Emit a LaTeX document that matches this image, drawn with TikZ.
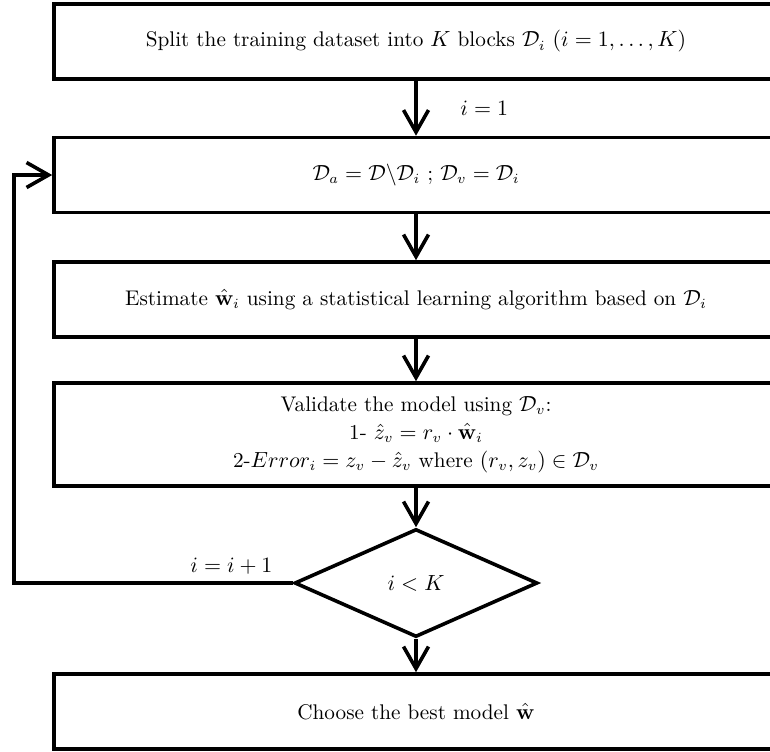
\documentclass[tikz,border=0pt]{standalone}
\usepackage{amsmath}
\usepackage{tikz}
\usetikzlibrary{arrows.meta,shapes.geometric}

\begin{document}
\begin{tikzpicture}[x=0.5pt,y=-0.5pt,line width=1.8pt,
        font=\fontsize{10.6pt}{13pt}\selectfont,
        blk/.style={rectangle, draw, fill=white, align=center,
                        inner sep=0pt, minimum width=362pt, minimum height=37.5pt},
        dec/.style={diamond, draw, fill=white, inner sep=0pt,
                        minimum width=121.5pt, minimum height=54pt},
        arr/.style={-{Straight Barb[length=11pt,width=12.5pt]}}]
    \useasboundingbox (0,0) rectangle (770,751);

    \node[blk] (split) at (416,41.5)
        {Split the training dataset into $K$ blocks $\mathcal{D}_i$ $(i=1,\ldots,K)$};
    \node[blk] (sets) at (416,175)
        {$\mathcal{D}_a=\mathcal{D}\backslash\mathcal{D}_i$ ; $\mathcal{D}_v=\mathcal{D}_i$};
    \node[blk] (est) at (416,299.5)
        {Estimate $\hat{\mathbf{w}}_i$ using a statistical learning algorithm based on $\mathcal{D}_i$};
    \node[blk, minimum height=51.5pt] (valid) at (416,434.5)
        {Validate the model using $\mathcal{D}_v$:\\[1pt]
         1- $\hat{z}_v=r_v\cdot\hat{\mathbf{w}}_i$\\[1pt]
         2-$Error_i=z_v-\hat{z}_v$ where $(r_v,z_v)\in\mathcal{D}_v$};
    \node[dec] (test) at (416,583) {$i<K$};
    \node[blk] (best) at (416,711.5) {Choose the best model $\hat{\mathbf{w}}$};
    \coordinate (back) at (14,583);

    \draw[arr] (split) -- node[right=18pt] {$i=1$} (sets);
    \draw[arr] (sets) -- (est);
    \draw[arr] (est) -- (valid);
    \draw[arr] (valid) -- (test);
    \draw[arr] (test) -- (best);
    \draw[arr] (test.west) -- node[above=0pt, pos=0.22] {$i=i+1$} (back) |- (sets.west);
\end{tikzpicture}
\end{document}
